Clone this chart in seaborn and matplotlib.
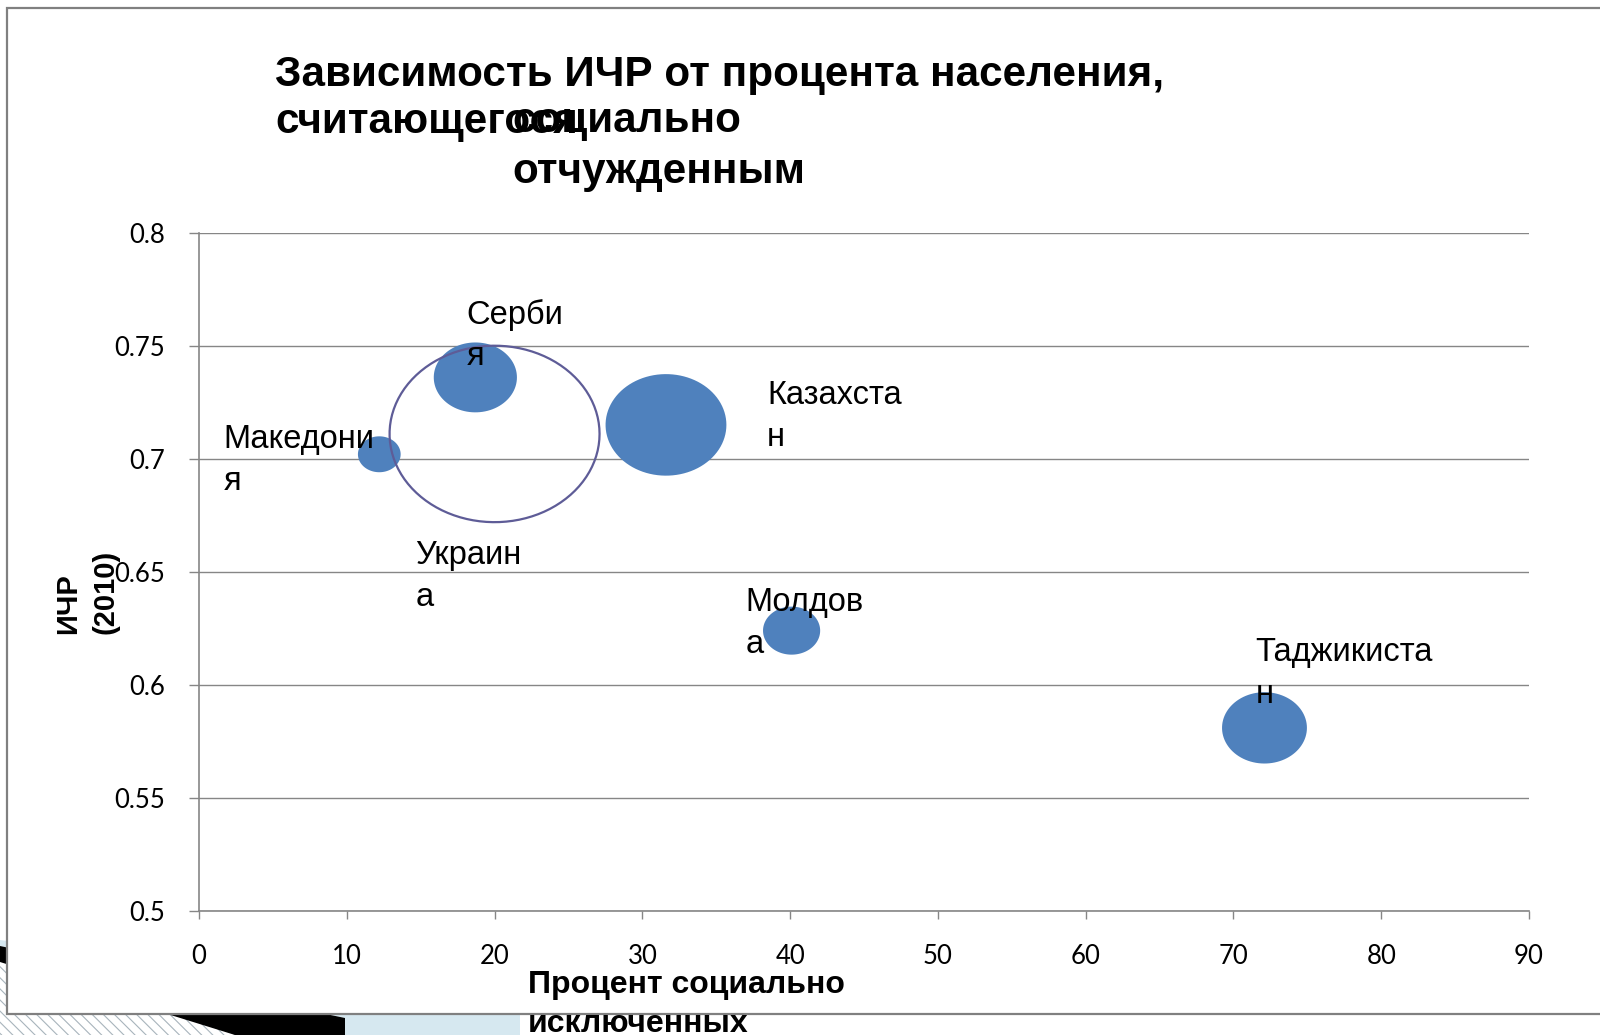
import numpy as np
import pandas as pd
import matplotlib
matplotlib.use("Agg")
import matplotlib.pyplot as plt
import seaborn as sns
from matplotlib.path import Path
from matplotlib.patches import Polygon, Rectangle

# ---------------- data ----------------
countries = ["Македония", "Сербия", "Украина", "Казахстан", "Молдова", "Таджикистан"]
label_texts = ["Македони\nя", "Серби\nя", "Украин\nа", "Казахста\nн", "Молдов\nа", "Таджикиста\nн"]
excluded_pct = [12.2, 18.7, 20.0, 31.6, 40.1, 72.1]
hdi_2010 = [0.702, 0.736, 0.711, 0.715, 0.624, 0.581]
bubble_value = [1.9, 7.2, 45.9, 15.2, 3.4, 7.5]
hollow = [False, False, True, False, False, False]

x_ticks = [0, 10, 20, 30, 40, 50, 60, 70, 80, 90]
y_ticks = [0.5, 0.55, 0.6, 0.65, 0.7, 0.75, 0.8]
y_tick_labels = ["0.5", "0.55", "0.6", "0.65", "0.7", "0.75", "0.8"]

title_line1 = "Зависимость ИЧР от процента населения,"
title_line2a = "считающегося"
title_line2b = "социально\nотчужденным"
x_label = "Процент социально\nисключенных"
y_label = "ИЧР\n(2010)"

df = pd.DataFrame({"country": countries, "label": label_texts, "x": excluded_pct,
                   "y": hdi_2010, "v": bubble_value, "hollow": hollow})

# ---------------- style ----------------
sns.set_style("white")
plt.rcParams["font.family"] = ["Liberation Sans", "DejaVu Sans"]
plt.rcParams["text.color"] = "black"
plt.rcParams["axes.labelcolor"] = "black"
plt.rcParams["xtick.color"] = "black"
plt.rcParams["ytick.color"] = "black"
plt.rcParams["hatch.linewidth"] = 0.8

W, H = 1600, 1035
fig = plt.figure(figsize=(W / 100, H / 100), dpi=100)
fig.patch.set_facecolor("white")

def P(px, py):
    return (px / W, 1 - py / H)

# slide decorations (bottom-left)
hatch_poly = Polygon([P(0, 955), P(250, 1035), P(0, 1035)], closed=True, transform=fig.transFigure,
                     facecolor="white", edgecolor="#a8b4bc", hatch="\\\\\\", lw=0, zorder=-4)
blue_poly = Polygon([P(0, 940), P(520, 1010), P(520, 1035), P(345, 1035), P(345, 1018), P(0, 946)],
                    closed=True, transform=fig.transFigure, facecolor="#d6e8f0", lw=0, zorder=-3)
black_poly = Polygon([P(0, 946), P(345, 1018), P(345, 1035), P(235, 1035), P(0, 962)],
                     closed=True, transform=fig.transFigure, facecolor="black", lw=0, zorder=-3)
frame = Rectangle(P(7, 1014), (1640 - 7) / W, (1014 - 8) / H, transform=fig.transFigure,
                  facecolor="white", edgecolor="#808080", lw=1.6, zorder=-2)
for a in (hatch_poly, blue_poly, black_poly, frame):
    fig.add_artist(a)

ax_l, ax_r, ax_t, ax_b = 199, 1529, 232.7, 911
ax = fig.add_axes([ax_l / W, 1 - ax_b / H, (ax_r - ax_l) / W, (ax_b - ax_t) / H])
ax.patch.set_alpha(0)

# elliptical bubble marker (chart is stretched horizontally)
t = np.linspace(0, 2 * np.pi, 100)
ell = Path(np.column_stack([1.19 * np.cos(t), np.sin(t)]), closed=True)

size_norm = (0, 45.9)
size_range = (0, 22861)

sns.scatterplot(data=df[~df["hollow"]], x="x", y="y", size="v", size_norm=size_norm,
                sizes=size_range, marker=ell, color="#4F81BD", linewidth=0,
                legend=False, ax=ax, zorder=3)
sns.scatterplot(data=df[df["hollow"]], x="x", y="y", size="v", size_norm=size_norm,
                sizes=size_range, marker=ell, color="none", edgecolor="#5E5C97",
                linewidth=1.6, legend=False, ax=ax, zorder=4)
ax.collections[-1].set_facecolor("none")

# data labels (offsets in pixels from bubble centres to baseline of the last line)
offsets = {"Македония": (-156, -36), "Сербия": (-9, 12), "Украина": (-79, -172),
           "Казахстан": (101, -21), "Молдова": (-46, -22), "Таджикистан": (-9, 25)}
for _, r in df.iterrows():
    ax.annotate(r["label"], xy=(r["x"], r["y"]), xytext=offsets[r["country"]],
                textcoords="offset pixels", ha="left", va="baseline", fontsize=23.5,
                linespacing=1.45, zorder=6, annotation_clip=False, color="black")

ax.set_xlim(0, 90)
ax.set_ylim(0.5, 0.8)
ax.set_xticks(x_ticks)
ax.set_xticklabels([str(v) for v in x_ticks])
ax.set_yticks(y_ticks)
ax.set_yticklabels(y_tick_labels)

grey = "#868686"
ax.grid(axis="y", color=grey, lw=1.0)
ax.grid(axis="x", visible=False)
ax.set_axisbelow(True)
for s in ("top", "right"):
    ax.spines[s].set_visible(False)
for s in ("left", "bottom"):
    ax.spines[s].set_color(grey)
    ax.spines[s].set_linewidth(1.2)
ax.tick_params(axis="y", direction="out", length=7.2, width=1.0, color=grey, pad=17, left=True,
               labelcolor="black")
ax.tick_params(axis="x", direction="out", length=6, width=1.0, color=grey, pad=18, bottom=True,
               labelcolor="black")
for lab in ax.get_xticklabels() + ax.get_yticklabels():
    lab.set_family(["Lato", "DejaVu Sans"])
    lab.set_fontsize(18.5)

ax.set_xlabel(x_label, fontsize=23, fontweight="bold", ha="left", va="baseline",
              multialignment="left", linespacing=1.39, color="black")
ax.xaxis.set_label_coords((528 - ax_l) / (ax_r - ax_l), (ax_b - 1032) / (ax_b - ax_t))
ax.set_ylabel(y_label, fontsize=21, fontweight="bold", rotation=90, rotation_mode="default",
              ha="center", va="bottom", multialignment="left", linespacing=1.4,
              family=["Liberation Sans", "DejaVu Sans"], color="black")
ax.yaxis.set_label_coords((87 - ax_l) / (ax_r - ax_l), (ax_b - 634) / (ax_b - ax_t))

# title (overlapping pieces as in the original)
tkw = dict(fontsize=30.4, fontweight="bold", ha="left", va="baseline", linespacing=1.37,
           color="black")
fig.text(*P(275, 85.7), title_line1, **tkw)
fig.text(*P(275, 133.3), title_line2a, **tkw)
fig.text(*P(512, 183), title_line2b, **tkw)

fig.savefig("out.png", dpi=100)
